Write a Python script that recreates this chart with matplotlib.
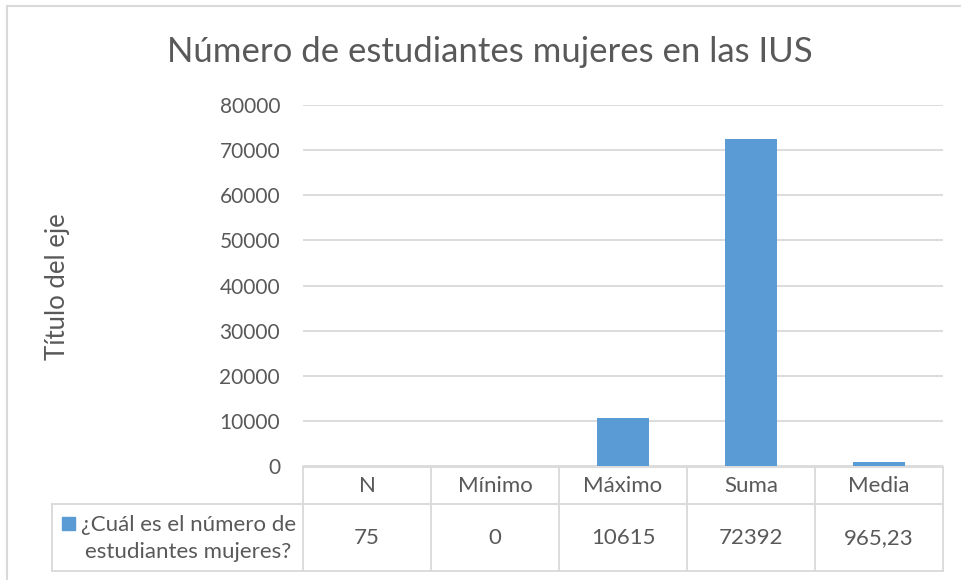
import matplotlib
matplotlib.use("Agg")
import matplotlib.pyplot as plt
from matplotlib.lines import Line2D
from matplotlib.patches import Rectangle

plt.rcParams['font.family'] = ['Lato', 'DejaVu Sans']

title = "Número de estudiantes mujeres en las IUS"
categories = ["N", "Mínimo", "Máximo", "Suma", "Media"]
values = [75, 0, 10615, 72392, 965.23]
value_labels = ["75", "0", "10615", "72392", "965,23"]
series_name = "¿Cuál es el número de\nestudiantes mujeres?"
y_ticks = [0, 10000, 20000, 30000, 40000, 50000, 60000, 70000, 80000]

W, H = 961, 580
bar_color = "#5B9BD5"
text_color = "#595959"
grid_color = "#D9D9D9"


def fx(px):
    return px / W


def fy(py):
    return 1 - py / H


fig = plt.figure(figsize=(W / 100, H / 100), dpi=100)

# plot area
left, right, top, bottom = 303, 943, 105, 466
ax = fig.add_axes([fx(left), fy(bottom), fx(right - left), fy(top) - fy(bottom)])
x = list(range(len(categories)))
ax.bar(x, values, width=0.4, color=bar_color, zorder=3)
ax.set_xlim(-0.5, len(categories) - 0.5)
ax.set_ylim(0, 80000)
ax.set_yticks(y_ticks)
ax.set_yticklabels([str(t) for t in y_ticks], fontsize=15, color=text_color)
ax.tick_params(axis='y', length=0, pad=16.5)
ax.set_xticks([])
ax.grid(axis='y', color=grid_color, linewidth=1.3, zorder=0)
for s in ax.spines.values():
    s.set_visible(False)

# chart border
fig.add_artist(Line2D([fx(7), fx(7)], [fy(6), 0], color=grid_color, lw=1.5))
fig.add_artist(Line2D([fx(7), 1], [fy(6), fy(6)], color=grid_color, lw=1.5))

fig.text(fx(490), fy(52), title, ha='center', va='center', fontsize=25, color=text_color)
fig.text(fx(58), fy(287), "Título del eje", rotation=90, ha='center', va='center',
         fontsize=18.5, color=text_color)

# data table
col_w = (right - left) / len(categories)
row1_top, row1_bot, row2_bot = 467, 504, 571
leg_left = 52
tbl_lw = 1.3
fig.add_artist(Line2D([fx(left), fx(right)], [fy(row1_top), fy(row1_top)], color=grid_color, lw=tbl_lw))
fig.add_artist(Line2D([fx(leg_left), fx(right)], [fy(row1_bot), fy(row1_bot)], color=grid_color, lw=tbl_lw))
fig.add_artist(Line2D([fx(leg_left), fx(right)], [fy(row2_bot), fy(row2_bot)], color=grid_color, lw=tbl_lw))
fig.add_artist(Line2D([fx(leg_left), fx(leg_left)], [fy(row1_bot), fy(row2_bot)], color=grid_color, lw=tbl_lw))
for i in range(len(categories) + 1):
    xx = left + i * col_w
    fig.add_artist(Line2D([fx(xx), fx(xx)], [fy(row1_top), fy(row2_bot)], color=grid_color, lw=tbl_lw))
for i, (cat, lab) in enumerate(zip(categories, value_labels)):
    cx = left + (i + 0.5) * col_w
    fig.text(fx(cx), fy((row1_top + row1_bot) / 2 + 1), cat, ha='center', va='center',
             fontsize=16, color=text_color)
    fig.text(fx(cx), fy((row1_bot + row2_bot) / 2 + 1), lab, ha='center', va='center',
             fontsize=16, color=text_color)

fig.add_artist(Rectangle((fx(62), fy(530)), fx(13), fy(517) - fy(530), color=bar_color))
fig.text(fx(296), fy((row1_bot + row2_bot) / 2 + 1), series_name, ha='right', va='center',
         fontsize=16, color=text_color, linespacing=1.45, multialignment='center')

fig.savefig("out.png", dpi=100)
